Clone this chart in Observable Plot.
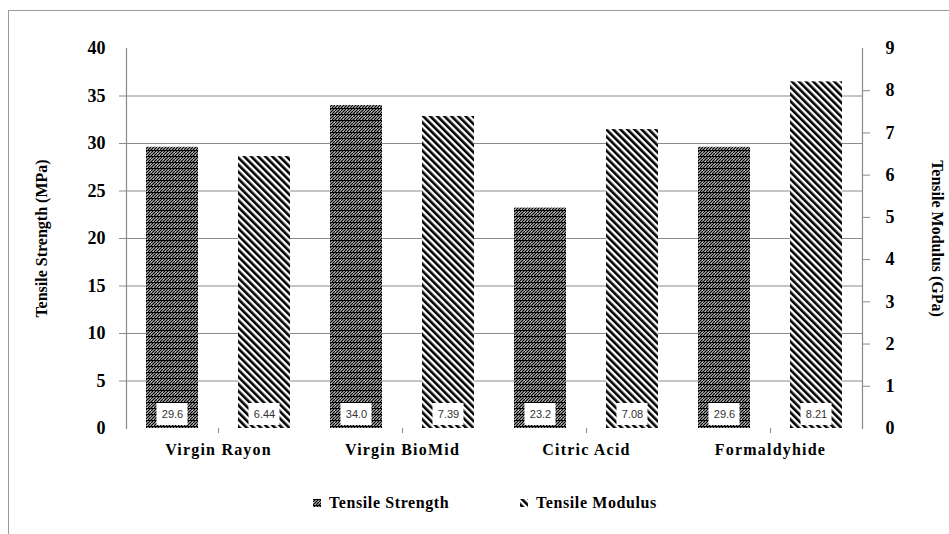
<!DOCTYPE html>
<html>
<head>
<meta charset="utf-8">
<script src="https://cdn.jsdelivr.net/npm/d3@7"></script>
<script src="https://cdn.jsdelivr.net/npm/@observablehq/plot@0.6"></script>
<style>
  body { margin: 0; background: #fff; }
  #wrap { position: relative; width: 949px; height: 534px; overflow: hidden;
          font-family: "Liberation Serif", "Times New Roman", serif; }
  #border { position: absolute; left: 8px; top: 10px; width: 1000px; height: 600px;
            border-left: 1.5px solid #9a9a9a; border-top: 1.5px solid #9a9a9a; }
  #chart { position: absolute; left: 0; top: 0; }
  #defs { position: absolute; left: 0; top: 0; }
  .legend-item { position: absolute; top: 494px; display: flex; align-items: center;
                 font-size: 16px; font-weight: bold; letter-spacing: 0.6px; color: #000; }
  .legend-item svg { margin-right: 8px; }
  g[aria-label="fx-axis tick label"] text { letter-spacing: 1.2px; }
  g[aria-label="ytitle-left"] text { letter-spacing: 2px; }
  g[aria-label="ytitle-right"] text { letter-spacing: 1px; }
</style>
</head>
<body>
<div id="wrap">
  <div id="border"></div>
  <svg id="defs" width="0" height="0">
    <defs>
      <pattern id="patS" width="6" height="6" patternUnits="userSpaceOnUse">
        <rect width="6" height="6" fill="#fff"/>
        <path d="M-1,1 L1,-1 M0,3 L3,0 M0,6 L6,0 M3,6 L6,3 M5,7 L7,5" stroke="#000" stroke-width="1.4"/>
        <rect x="0" y="0" width="6" height="1" fill="#000"/>
      </pattern>
      <pattern id="patM" width="5" height="5" patternUnits="userSpaceOnUse" patternTransform="rotate(-45)">
        <rect width="5" height="5" fill="#fff"/>
        <rect width="2.6" height="5" fill="#000"/>
      </pattern>
    </defs>
  </svg>
  <div id="chart"></div>
  <div id="legend"></div>
</div>
<script>
// ---- data ----
const categories = ["Virgin Rayon", "Virgin BioMid", "Citric Acid", "Formaldyhide"];
const series = ["Tensile Strength", "Tensile Modulus"];
const strength = [29.6, 34.0, 23.2, 29.6];   // MPa (left axis)
const modulus = [6.44, 7.39, 7.08, 8.21];    // GPa (right axis)
const strengthTicks = [0, 5, 10, 15, 20, 25, 30, 35, 40];
const modulusTicks = [0, 1, 2, 3, 4, 5, 6, 7, 8, 9];
const strengthTitle = "Tensile Strength (MPa)";
const modulusTitle = "Tensile Modulus (GPa)";
const patterns = ["url(#patS)", "url(#patM)"];

const strengthMax = strengthTicks[strengthTicks.length - 1];
const modulusMax = modulusTicks[modulusTicks.length - 1];
const k = strengthMax / modulusMax; // map modulus onto the strength scale

const rows = categories.flatMap((c, i) => [
  {category: c, series: series[0], v: strength[i], label: strength[i].toFixed(1)},
  {category: c, series: series[1], v: modulus[i] * k, label: modulus[i].toFixed(2)}
]);

const grey = "#8a8a8a";
const chart = Plot.plot({
  width: 949,
  height: 470,
  marginLeft: 125,
  marginRight: 86,
  marginTop: 48,
  marginBottom: 42,
  style: {fontFamily: '"Liberation Serif", "Times New Roman", serif', background: "transparent", color: "#000"},
  fx: {domain: categories, padding: 0, label: null},
  x: {domain: series, paddingInner: 0.43, paddingOuter: 0.21, axis: null},
  y: {domain: [0, strengthMax]},
  marks: [
    Plot.gridY(strengthTicks.filter(t => t > 0 && t < strengthMax), {stroke: grey, strokeOpacity: 1}),
    Plot.barY(rows.filter(d => d.series === series[0]), {fx: "category", x: "series", y: "v", fill: patterns[0]}),
    Plot.barY(rows.filter(d => d.series === series[1]), {fx: "category", x: "series", y: "v", fill: patterns[1]}),
    Plot.barY(rows, {fx: "category", x: "series", y1: 0, y2: 0, insetTop: -25, insetBottom: 3,
                     insetLeft: 10.5, insetRight: 10.5, fill: "white"}),
    Plot.text(rows, {fx: "category", x: "series", y: 0, dy: -14, text: "label", fontSize: 11,
                     fontFamily: '"Liberation Sans", Arial, sans-serif', fill: "#333"}),
    Plot.frame({anchor: "left", facetAnchor: "left", stroke: grey, strokeWidth: 1.2}),
    Plot.frame({anchor: "right", facetAnchor: "right", stroke: grey, strokeWidth: 1.2}),
    // left axis
    Plot.axisY(strengthTicks.filter(t => t > 0 && t < strengthMax), {anchor: "left", tickSize: 7, tickFormat: () => "", stroke: grey, label: null}),
    Plot.axisY(strengthTicks, {anchor: "left", tickSize: 0, tickPadding: 21, fontSize: 18, fontWeight: "bold", label: null}),
    // right axis (modulus)
    Plot.axisY(modulusTicks.filter(t => t > 0 && t < modulusMax).map(t => t * k), {anchor: "right", tickSize: 7, tickFormat: () => "", stroke: grey, label: null}),
    Plot.axisY(modulusTicks.map(t => t * k), {anchor: "right", tickSize: 0, tickPadding: 23, tickFormat: d => String(Math.round(d / k)),
                                               fontSize: 18, fontWeight: "bold", label: null}),
    // category axis
    Plot.axisFx({anchor: "bottom", tickSize: 5, tickPadding: 10, fontSize: 16, fontWeight: "bold", stroke: grey, fill: "#000", label: null}),
    // axis titles
    Plot.text([strengthTitle], {frameAnchor: "left", facetAnchor: "left", textAnchor: "middle", rotate: -90, dx: -85,
                                fontSize: 16, fontWeight: "bold", ariaLabel: "ytitle-left"}),
    Plot.text([modulusTitle], {frameAnchor: "right", facetAnchor: "right", textAnchor: "middle", rotate: 90, dx: 75,
                               fontSize: 16, fontWeight: "bold", ariaLabel: "ytitle-right"})
  ]
});
document.getElementById("chart").appendChild(chart);

// legend
const legend = document.getElementById("legend");
const legendLeft = [313, 520];
series.forEach((s, i) => {
  const item = document.createElement("div");
  item.className = "legend-item";
  item.style.left = legendLeft[i] + "px";
  item.innerHTML = `<svg width="8" height="8"><rect width="8" height="8" fill="${patterns[i]}"/></svg><span>${s}</span>`;
  legend.appendChild(item);
});
</script>
</body>
</html>
